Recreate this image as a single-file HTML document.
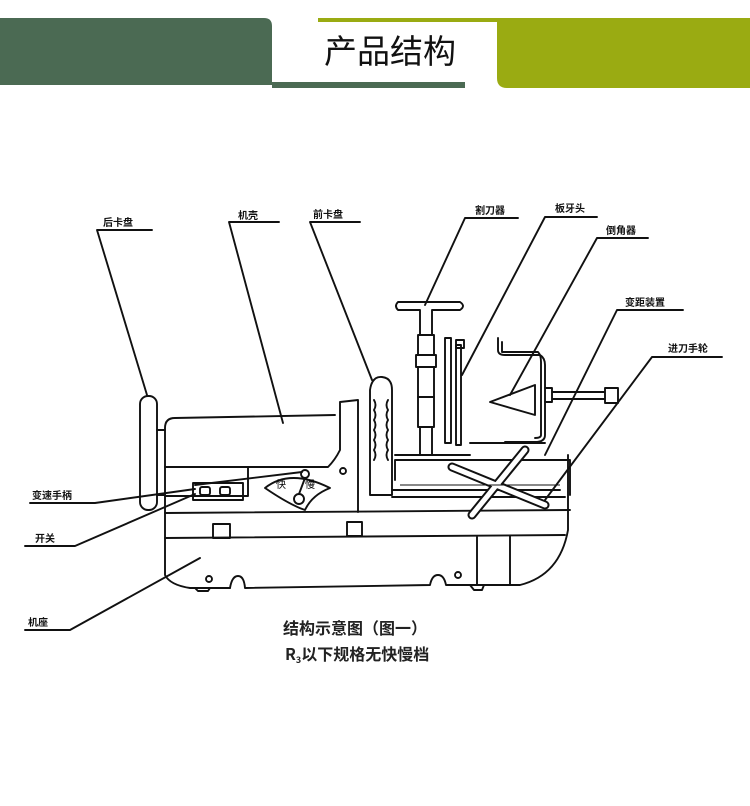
<!DOCTYPE html>
<html><head><meta charset="utf-8"><style>
html,body{margin:0;padding:0;background:#fff;}
body{width:750px;height:806px;overflow:hidden;position:relative;font-family:"Liberation Sans","Noto Sans CJK SC",sans-serif;}
svg{position:absolute;left:0;top:0;}
.l{font-family:"Noto Sans CJK SC","WenQuanYi Zen Hei",sans-serif;font-size:10px;font-weight:bold;fill:#111;}
</style></head><body>
<svg width="750" height="806" viewBox="0 0 750 806" xmlns="http://www.w3.org/2000/svg">
<path d="M0 18 H264 Q272 18 272 26 V85 H0 Z" fill="#4b6a53"/>
<rect x="272" y="82" width="193" height="6" fill="#4b6a53"/>
<rect x="318" y="18" width="182" height="4" fill="#9aab12"/>
<path d="M497 18 H750 V88 H507 Q497 88 497 78 Z" fill="#9aab12"/>
<text x="390" y="63" text-anchor="middle" font-family="Noto Sans CJK SC,sans-serif" font-size="33" fill="#111">产品结构</text>

<g fill="none" stroke="#111" stroke-width="1.9" stroke-linejoin="round" stroke-linecap="round">
<path d="M152 230 H97 L147 395"/>
<path d="M279 222 H229 L283 423"/>
<path d="M360 222 H310 L372 380"/>
<path d="M518 218 H465 L425 305"/>
<path d="M597 217 H545 L462 375"/>
<path d="M648 238 H597 L510 395"/>
<path d="M683 310 H617 L545 455"/>
<path d="M722 357 H652 L545 500"/>
<path d="M30 503 H95 L195 489"/>
<path d="M25 546 H75 L195 494"/>
<path d="M25 630 H70 L200 558"/>

<rect x="140" y="396" width="17" height="114" rx="8"/>
<path d="M157 430 H165 M157 495 H165"/>
<path d="M165 467 V428 Q165 418 175 418 L335 415"/>
<path d="M165 467 H328 Q335 460 340 450 V402 L358 400 V512"/>
<circle cx="343" cy="471" r="3"/>
<path d="M165 467 V575 Q170 585 190 588 L230 588"/>
<rect x="193" y="483" width="50" height="17"/>
<rect x="200" y="487" width="10" height="8" rx="2"/>
<rect x="220" y="487" width="10" height="8" rx="2"/>
<path d="M248 467 V496 H165"/>
<path d="M265 488 Q290 468 330 488 Q312 495 305 510 Q290 505 265 488 Z"/>
<circle cx="299" cy="499" r="5"/>
<circle cx="305" cy="474" r="4"/>
<path d="M299 494 L305 478 M195 485 L302 472"/>
<path d="M165 513 L570 510 M165 538 L565 535"/>
<rect x="213" y="524" width="17" height="14"/>
<rect x="347" y="522" width="15" height="14"/>
<path d="M230 588 Q232 576 238 576 Q244 576 245 588 L430 585 Q432 575 438 575 Q444 575 446 585 L520 585 Q560 575 568 530 V455"/>
<circle cx="209" cy="579" r="3"/>
<circle cx="458" cy="575" r="3"/>
<path d="M477 537 V585 M510 536 V585"/>
<path d="M195 588 L198 591 H208 L210 588 M470 585 L474 590 H482 L484 585"/>
<path d="M370 495 V390 Q372 376 382 377 Q392 378 392 390 V495 Z"/>
<path d="M374 400 q3 5 0 10 q3 5 0 10 q3 5 0 10 q3 5 0 10 q3 5 0 10 q3 5 0 10 M388 400 q-3 5 0 10 q-3 5 0 10 q-3 5 0 10 q-3 5 0 10 q-3 5 0 10 q-3 5 0 10"/>
<path d="M392 497 H565 M392 490 H560 M395 480 V460 H570 V495"/>
<path d="M395 455 H470 M470 443 H545"/>
<path d="M398 302 Q394 306 398 310 H420 V335 H432 V310 H460 Q466 306 460 302 Z"/>
<rect x="418" y="335" width="16" height="20"/>
<rect x="416" y="355" width="20" height="12"/>
<rect x="418" y="367" width="16" height="30"/>
<rect x="418" y="397" width="16" height="30"/>
<rect x="420" y="427" width="12" height="28"/>
<rect x="445" y="338" width="6" height="105"/>
<rect x="456" y="345" width="5" height="100"/>
<rect x="456" y="340" width="8" height="8"/>
<path d="M490 402 L535 385 V415 Z"/>
<path d="M498 338 V350 Q498 355 505 355 H540 Q545 358 545 365 V435 Q545 442 535 442 H505"/>
<path d="M502 342 V352 H538 Q541 355 541 362 V435 Q541 438 535 438"/>
<path d="M545 388 H552 V402 H545 M552 392 H605 M552 399 H605 M605 388 H618 V403 H605 Z"/>
<path d="M452 467 L545 505 M525 450 L472 515" stroke-width="9" stroke="#111"/>
<path d="M452 467 L545 505 M525 450 L472 515" stroke-width="5" stroke="#fff"/>
</g>
<g fill="none" stroke="#111" stroke-width="1"><path d="M400 485 H560"/></g>

<text class="l" x="103" y="226">后卡盘</text>
<text class="l" x="238" y="219">机壳</text>
<text class="l" x="313" y="218">前卡盘</text>
<text class="l" x="475" y="214">割刀器</text>
<text class="l" x="555" y="212">板牙头</text>
<text class="l" x="606" y="234">倒角器</text>
<text class="l" x="625" y="306">变距装置</text>
<text class="l" x="668" y="352">进刀手轮</text>
<text class="l" x="32" y="499">变速手柄</text>
<text class="l" x="35" y="542">开关</text>
<text class="l" x="28" y="626">机座</text>
<text x="276" y="488" font-size="10" font-family="Noto Sans CJK SC,sans-serif">快</text>
<text x="305" y="488" font-size="10" font-family="Noto Sans CJK SC,sans-serif">慢</text>
<text x="283" y="634" font-size="16" font-weight="bold" font-family="Noto Sans CJK SC,sans-serif" fill="#222">结构示意图（图一）</text>
<text x="285" y="660" font-size="16" font-weight="bold" font-family="Noto Sans CJK SC,sans-serif" fill="#222">R<tspan font-size="9" dy="3">3</tspan><tspan dy="-3">以下规格无快慢档</tspan></text>
</svg>
</body></html>
